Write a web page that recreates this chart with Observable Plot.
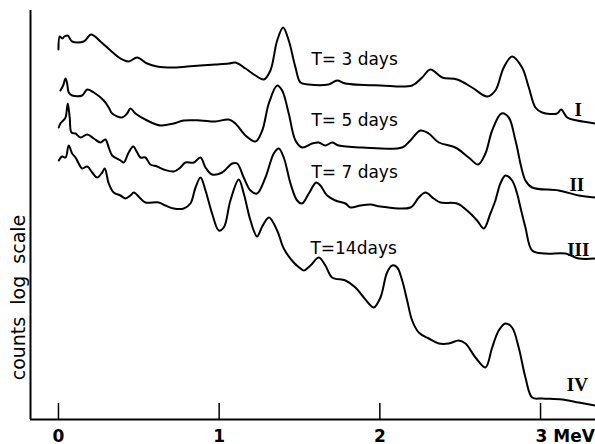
<!DOCTYPE html>
<html>
<head>
<meta charset="utf-8">
<script src="https://cdn.jsdelivr.net/npm/d3@7"></script>
<script src="https://cdn.jsdelivr.net/npm/@observablehq/plot@0.6"></script>
<style>
  html, body { margin: 0; padding: 0; background: white; }
  #chart svg { display: block; overflow: visible; }
</style>
</head>
<body>
<div id="chart"></div>
<script>
// Energy (MeV) and relative log counts (arbitrary units)
const energyI = [0.00,0.008,0.023,0.037,0.058,0.085,0.157,0.203,0.261,0.324,0.386,0.437,0.490,0.552,0.614,0.708,0.801,0.884,0.977,1.060,1.101,1.164,1.226,1.278,1.319,1.361,1.398,1.433,1.475,1.506,1.556,1.680,1.734,1.786,2.004,2.201,2.263,2.315,2.388,2.481,2.574,2.668,2.719,2.771,2.823,2.885,2.927,2.968,3.010,3.103,3.128,3.166,3.228,3.342];
const countsI = [3.70,3.83,3.81,3.83,3.84,3.78,3.78,3.85,3.78,3.69,3.61,3.58,3.62,3.56,3.53,3.52,3.53,3.54,3.55,3.56,3.57,3.51,3.44,3.40,3.49,3.79,3.92,3.79,3.52,3.37,3.35,3.35,3.39,3.36,3.34,3.34,3.42,3.50,3.42,3.40,3.32,3.23,3.29,3.52,3.63,3.52,3.32,3.12,3.07,3.06,3.10,3.02,2.99,2.96];

const energyII = [0.012,0.029,0.044,0.054,0.064,0.085,0.147,0.179,0.220,0.282,0.313,0.334,0.396,0.427,0.448,0.479,0.552,0.635,0.717,0.780,0.884,0.977,1.060,1.101,1.164,1.226,1.268,1.309,1.361,1.392,1.433,1.475,1.516,1.579,1.620,1.661,1.703,1.744,1.890,2.139,2.190,2.253,2.304,2.367,2.470,2.553,2.612,2.657,2.699,2.757,2.802,2.844,2.906,2.948,3.113,3.238,3.342];
const countsII = [3.29,3.34,3.41,3.36,3.27,3.24,3.24,3.30,3.27,3.19,3.12,3.06,3.02,3.06,3.11,3.06,2.99,2.94,2.96,2.99,2.99,2.98,3.00,2.96,2.84,2.78,2.89,3.16,3.34,3.29,3.06,2.79,2.72,2.76,2.77,2.74,2.77,2.74,2.72,2.72,2.79,2.89,2.86,2.77,2.72,2.62,2.55,2.66,2.89,3.06,3.02,2.79,2.39,2.32,2.29,2.24,2.22];

const energyIII = [0.002,0.012,0.029,0.044,0.058,0.070,0.081,0.106,0.137,0.179,0.220,0.261,0.292,0.313,0.334,0.386,0.406,0.437,0.465,0.490,0.510,0.541,0.572,0.614,0.655,0.717,0.759,0.790,0.842,0.884,0.915,0.956,1.019,1.081,1.112,1.153,1.195,1.236,1.288,1.340,1.371,1.402,1.444,1.485,1.516,1.558,1.604,1.630,1.672,1.724,1.786,1.817,1.879,1.942,2.004,2.190,2.242,2.284,2.335,2.377,2.481,2.543,2.605,2.647,2.688,2.719,2.750,2.782,2.823,2.854,2.875,2.906,2.948,3.030,3.155,3.238,3.342];
const countsIII = [2.92,2.96,2.99,3.02,3.16,3.02,2.87,2.86,2.82,2.85,2.81,2.77,2.80,2.72,2.64,2.59,2.57,2.67,2.73,2.67,2.62,2.62,2.55,2.53,2.50,2.48,2.52,2.57,2.57,2.62,2.52,2.45,2.47,2.56,2.56,2.42,2.29,2.26,2.42,2.66,2.71,2.62,2.36,2.19,2.16,2.26,2.37,2.34,2.24,2.19,2.16,2.12,2.14,2.15,2.13,2.12,2.22,2.27,2.21,2.17,2.16,2.09,1.99,1.91,2.06,2.19,2.36,2.44,2.39,2.26,2.12,1.92,1.69,1.66,1.66,1.61,1.61];

const energyIV = [0.002,0.023,0.044,0.064,0.085,0.106,0.126,0.147,0.179,0.210,0.241,0.272,0.288,0.313,0.344,0.386,0.417,0.448,0.469,0.510,0.541,0.624,0.666,0.717,0.780,0.821,0.853,0.884,0.915,0.956,0.998,1.029,1.070,1.122,1.153,1.195,1.236,1.268,1.310,1.361,1.402,1.464,1.506,1.526,1.568,1.620,1.661,1.703,1.786,1.848,1.890,1.931,1.962,2.004,2.045,2.077,2.108,2.139,2.170,2.201,2.242,2.304,2.367,2.429,2.491,2.533,2.595,2.657,2.699,2.740,2.782,2.823,2.864,2.906,2.948,3.010,3.134,3.238,3.342];
const countsIV = [2.59,2.63,2.62,2.74,2.66,2.62,2.56,2.51,2.53,2.47,2.42,2.47,2.51,2.36,2.27,2.24,2.21,2.24,2.27,2.21,2.17,2.17,2.14,2.11,2.11,2.16,2.32,2.42,2.29,2.06,1.89,1.92,2.19,2.40,2.26,1.99,1.83,1.93,2.02,1.89,1.71,1.57,1.51,1.49,1.54,1.62,1.54,1.42,1.39,1.32,1.24,1.16,1.12,1.22,1.47,1.54,1.52,1.39,1.19,0.99,0.87,0.81,0.76,0.76,0.79,0.76,0.62,0.52,0.72,0.89,0.96,0.92,0.72,0.42,0.22,0.21,0.20,0.17,0.14];

// Curve labels
const timeLabels = ["T= 3 days", "T= 5 days", "T= 7 days", "T=14days"];
const timeLabelE = [1.574, 1.574, 1.574, 1.568];
const timeLabelY = [3.55, 2.94, 2.42, 1.66];

const romanLabels = ["I", "II", "III", "IV"];
const romanE = [3.235, 3.226, 3.235, 3.229];
const romanY = [3.04, 2.29, 1.64, 0.29];

const xTicks = [0, 1, 2];
const lastTick = [3];
const xUnit = "MeV";
const yLabel = "counts  log  scale";
const xMin = -0.174, xMax = 3.342, yMin = 0, yMax = 4.09;

const series = [
  {E: energyI, C: countsI},
  {E: energyII, C: countsII},
  {E: energyIII, C: countsIII},
  {E: energyIV, C: countsIV}
];
const lines = series.map(s => s.E.map((e, i) => ({e, c: s.C[i]})));
const tLabels = timeLabels.map((t, i) => ({t, e: timeLabelE[i], c: timeLabelY[i]}));
const rLabels = romanLabels.map((t, i) => ({t, e: romanE[i], c: romanY[i]}));

const chart = Plot.plot({
  width: 595,
  height: 444,
  marginLeft: 30,
  marginRight: 0,
  marginTop: 10,
  marginBottom: 25,
  x: {domain: [xMin, xMax], axis: null},
  y: {domain: [yMin, yMax], axis: null},
  style: {background: "white", fontFamily: "DejaVu Sans", color: "black", overflow: "visible"},
  marks: [
    ...lines.map(d => Plot.line(d, {x: "e", y: "c", stroke: "black", strokeWidth: 2, curve: "catmull-rom"})),
    Plot.ruleY([yMin], {stroke: "black", strokeWidth: 2}),
    Plot.ruleX([xMin], {stroke: "black", strokeWidth: 2}),
    Plot.ruleX([...xTicks, ...lastTick], {y1: 0, y2: 0.16, stroke: "black", strokeWidth: 1.5}),
    Plot.text(xTicks, {x: d => d, y: yMin, text: d => String(d), dy: 22, lineAnchor: "bottom", textAnchor: "middle", fontSize: 17, fontWeight: "bold", fill: "black"}),
    Plot.text(lastTick, {x: d => d, y: yMin, text: d => d + " " + xUnit, dy: 22, dx: -5, lineAnchor: "bottom", textAnchor: "start", fontSize: 17, fontWeight: "bold", fill: "black"}),
    Plot.text(tLabels, {x: "e", y: "c", text: "t", textAnchor: "start", lineAnchor: "bottom", fontSize: 17, fill: "black"}),
    Plot.text(rLabels, {x: "e", y: "c", text: "t", textAnchor: "middle", lineAnchor: "bottom", fontSize: 19, fontWeight: "bold", fontFamily: "Liberation Serif", fill: "black"}),
    Plot.text([yLabel], {x: xMin, y: 1.22, text: d => d, rotate: -90, dx: -11.5, fontSize: 19, fill: "black"})
  ]
});
d3.select(chart).selectAll("text").attr("xml:space", "preserve").style("white-space", "pre");
document.getElementById("chart").appendChild(chart);
</script>
</body>
</html>
